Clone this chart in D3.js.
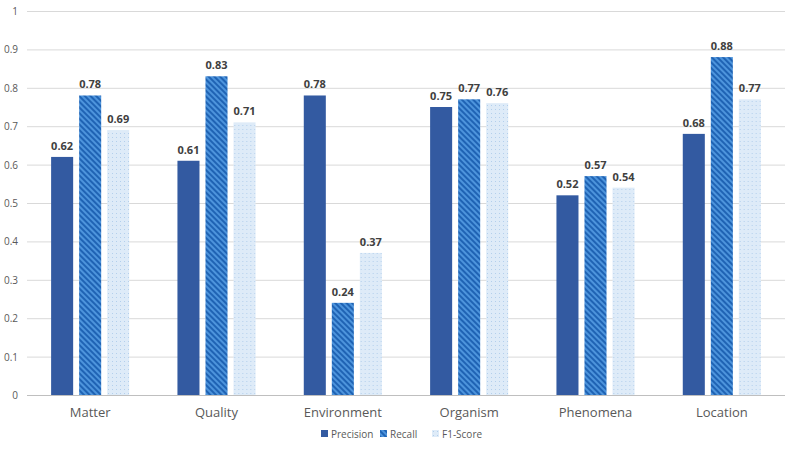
<!DOCTYPE html>
<html>
<head>
<meta charset="utf-8">
<script src="https://cdn.jsdelivr.net/npm/d3@7"></script>
<style>
  body { margin: 0; background: #fff; }
  text { font-family: "Open Sans", "Liberation Sans", sans-serif; }
</style>
</head>
<body>
<div id="chart"></div>
<script>
const categories = ["Matter", "Quality", "Environment", "Organism", "Phenomena", "Location"];
const seriesNames = ["Precision", "Recall", "F1-Score"];
const precision = [0.62, 0.61, 0.78, 0.75, 0.52, 0.68];
const recall = [0.78, 0.83, 0.24, 0.77, 0.57, 0.88];
const f1 = [0.69, 0.71, 0.37, 0.76, 0.54, 0.77];
const yTicks = [0, 0.1, 0.2, 0.3, 0.4, 0.5, 0.6, 0.7, 0.8, 0.9, 1];

const width = 800, height = 450;
const margin = { top: 11, right: 15, bottom: 55, left: 27 };

const svg = d3.select("#chart").append("svg")
  .attr("width", width)
  .attr("height", height);

// patterns
const defs = svg.append("defs");
const stripe = defs.append("pattern")
  .attr("id", "stripe")
  .attr("patternUnits", "userSpaceOnUse")
  .attr("width", 4).attr("height", 4)
  .attr("patternTransform", "rotate(-45)");
stripe.append("rect").attr("width", 4).attr("height", 4).attr("fill", "#4d94dc");
stripe.append("rect").attr("width", 2).attr("height", 4).attr("fill", "#1f63b4");

const dots = defs.append("pattern")
  .attr("id", "dots")
  .attr("patternUnits", "userSpaceOnUse")
  .attr("width", 4).attr("height", 4);
dots.append("rect").attr("width", 4).attr("height", 4).attr("fill", "#deebf8");
dots.append("rect").attr("x", 1).attr("y", 1).attr("width", 1).attr("height", 1).attr("fill", "#b3cfec");

const fills = ["#335aa1", "url(#stripe)", "url(#dots)"];
const data = [precision, recall, f1];

const x = d3.scaleBand()
  .domain(categories)
  .range([margin.left, width - margin.right]);

const xs = d3.scaleBand()
  .domain(seriesNames)
  .range([0, x.bandwidth()])
  .paddingInner(0.214)
  .paddingOuter(0.86);

const y = d3.scaleLinear()
  .domain([0, 1])
  .range([height - margin.bottom, margin.top]);

// grid
svg.append("g")
  .selectAll("line")
  .data(yTicks)
  .join("line")
  .attr("x1", margin.left)
  .attr("x2", width - margin.right)
  .attr("y1", d => y(d) + 0.5)
  .attr("y2", d => y(d) + 0.5)
  .attr("stroke", d => d === 0 ? "#bfbfbf" : "#d9d9d9")
  .attr("stroke-width", 1);

// y tick labels
svg.append("g")
  .selectAll("text")
  .data(yTicks)
  .join("text")
  .attr("x", 18)
  .attr("y", d => y(d) + 4)
  .attr("text-anchor", "end")
  .attr("fill", "#595959")
  .style("font-size", "10px")
  .text(d => d3.format("~g")(d));

// bars
const groups = svg.append("g")
  .selectAll("g")
  .data(categories)
  .join("g")
  .attr("transform", d => `translate(${x(d)},0)`);

seriesNames.forEach((s, si) => {
  groups.append("rect")
    .attr("x", xs(s))
    .attr("width", xs.bandwidth())
    .attr("y", (d, i) => y(data[si][i]))
    .attr("height", (d, i) => y(0) - y(data[si][i]))
    .attr("fill", fills[si]);

  groups.append("text")
    .attr("x", xs(s) + xs.bandwidth() / 2)
    .attr("y", (d, i) => y(data[si][i]) - 7)
    .attr("text-anchor", "middle")
    .attr("fill", "#404040")
    .style("font-size", "11px")
    .style("font-weight", "bold")
    .text((d, i) => d3.format(".2f")(data[si][i]));
});

// x axis labels
svg.append("g")
  .selectAll("text")
  .data(categories)
  .join("text")
  .attr("x", d => x(d) + x.bandwidth() / 2)
  .attr("y", y(0) + 22)
  .attr("text-anchor", "middle")
  .attr("fill", "#595959")
  .style("font-size", "13px")
  .text(d => d);

// legend
const legendX = [321, 380, 432];
const legend = svg.append("g")
  .selectAll("g")
  .data(seriesNames)
  .join("g")
  .attr("transform", (d, i) => `translate(${legendX[i]},${height - 12})`);

legend.append("rect")
  .attr("x", 0).attr("y", -8)
  .attr("width", 7).attr("height", 7)
  .attr("fill", (d, i) => fills[i]);

legend.append("text")
  .attr("x", 10)
  .attr("y", 0)
  .attr("fill", "#595959")
  .style("font-size", "10px")
  .text(d => d);
</script>
</body>
</html>
